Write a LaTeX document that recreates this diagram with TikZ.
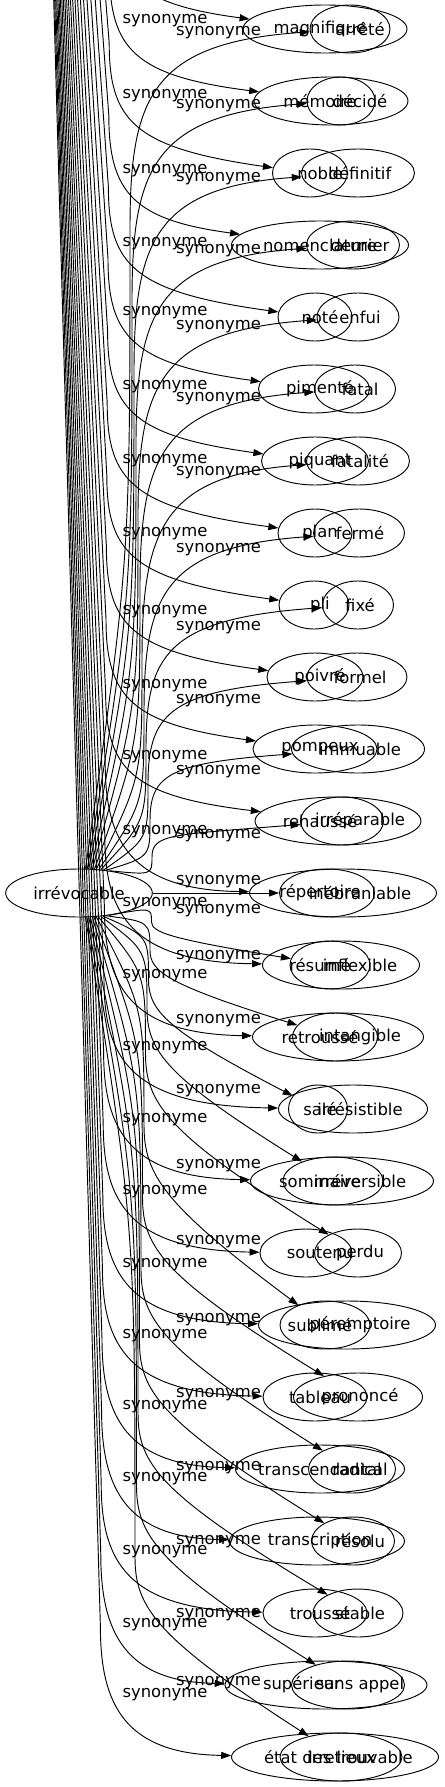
\documentclass[tikz,border=0pt]{standalone}
\usepackage{fontspec}
\setmainfont{DejaVu Sans}
\usetikzlibrary{arrows.meta,shapes.geometric}

\tikzset{
  ell/.style={ellipse, draw, inner sep=0pt, minimum height=36pt},
  word/.style={inner sep=0pt, font=\fontsize{12.3}{14}\selectfont}
}

\begin{document}
\begin{tikzpicture}[x=0.75pt, y=-0.75pt, line width=0.7pt, >={Triangle[length=7.5pt,width=5.25pt]}]
\useasboundingbox (0,0) rectangle (445,1787);
\clip (0,0) rectangle (445,1787);

% the two roots
\node[ell, word, minimum width=110pt] (irr) at (79,893) {irrévocable};
\coordinate (releve) at (25,-1000);

% synonyms, two per row
\foreach \i/\ea/\wa/\eb/\wb/\xa/\ta/\tb in {
   0/325/164/350/80/320/magnifique/arrêté,
   1/331/154/341/68/320/mémoire/décidé,
   2/310/75/358/113/320/noble/définitif,
   3/320/177/353/93/320/nomenclature/dernier,
   4/315/74/358/82/320/noté/enfui,
   5/314/111/355/81/320/pimenté/fatal,
   6/315/107/358/103/320/piquant/fatalité,
   7/315/74/359/91/320/plan/fermé,
   8/314/70/358/71/320/pli/fixé,
   9/315/96/357/100/320/poivré/formel,
   10/315/124/358/133/320/pompeux/immuable,
   11/338/166/342/83/320/rehaussé/irréparable,
   12/343/187/327/95/320/répertoire/inébranlable,
   13/341/157/330/80/320/résumé/inflexible,
   14/338/171/335/85/320/retroussé/intangible,
   15/353/149/318/59/320/salé/irrésistible,
   16/342/183/333/100/320/sommaire/irréversible,
   17/306/92/358/87/320/soutenu/perdu,
   18/347/177/325/90/320/sublimé/péremptoire,
   19/315/104/358/129/320/tableau/prononcé,
   20/320/169/352/87/320/transcendantal/radical,
   21/317/175/353/83/320/transcription/résolu,
   22/315/104/358/90/320/troussé/stable,
   23/326/202/348/113/302/supérieur/sans appel,
   24/335/207/341/122/320/état des lieux/irretrouvable}{
  \pgfmathsetmacro\y{29+72*\i}
  \node[ell, minimum width=0.75pt*\wa] (a\i) at (\ea,\y) {};
  \node[ell, minimum width=0.75pt*\wb] (b\i) at (\eb,\y) {};
  \node[word] (ta\i) at (\xa,\y) {\ta};
  \node[word] (tb\i) at (360,\y) {\tb};
}

% edges from the root above the page
\foreach \i in {0,...,24}{
  \pgfmathsetmacro\y{29+72*\i}
  \pgfmathsetmacro\dA{\i<12 ? 25 : 3}
  \pgfmathsetmacro\xv{110-0.4*\i}
  \draw[->] (releve) -- (\xv,\y-130) .. controls (\xv,\y-52) and (\xv+25,\y-\dA) .. (a\i);
}

% edges from irrevocable, upwards
\foreach \i in {0,...,11}{
  \pgfmathsetmacro\y{29+72*\i}
  \pgfmathsetmacro\d{893-\y}
  \pgfmathsetmacro\h{min(200,0.5*\d)}
  \pgfmathtruncatemacro\ang{75-3.5*\i}
  \pgfmathsetmacro\sx{130+2*\i}
  \draw[->] (irr.\ang) .. controls (\sx,893-0.5*\d+0.5*\h) .. (\sx,\y+\h)
            .. controls (\sx,\y+0.35*\h) and (\sx+20,\y+14) .. (b\i);
}
\draw[->] (irr) -- (b12);
% edges from irrevocable, downwards
\foreach \i in {13,...,24}{
  \pgfmathsetmacro\y{29+72*\i}
  \pgfmathsetmacro\d{\y-893}
  \pgfmathsetmacro\h{min(200,0.6*\d)}
  \pgfmathtruncatemacro\ang{285+3.5*(24-\i)}
  \pgfmathsetmacro\sx{135+1.5*(24-\i)}
  \draw[->] (irr.\ang) .. controls (\sx,893+0.5*\d-0.5*\h) .. (\sx,\y-\h)
            .. controls (\sx,\y-0.75*\h) and (\sx+20,\y-0.6*\h) .. (b\i);
}

% edge labels
\foreach \yl [count=\k] in {21,96,171,244,313,387,461,534,612,686,757,832,
    904,976,1048,1120,1192,1265,1336,1407,1479,1552,1625,1695}
  \node[word] (sa\k) at (165,\yl) {synonyme};
\foreach \yl [count=\k] in {33,106,179,251,327,399,473,550,628,701,772,836,
    882,911,957,1021,1091,1166,1242,1320,1395,1468,1542,1615,1683}
  \node[word] (sb\k) at (218.5,\yl) {synonyme};
\end{tikzpicture}
\end{document}
